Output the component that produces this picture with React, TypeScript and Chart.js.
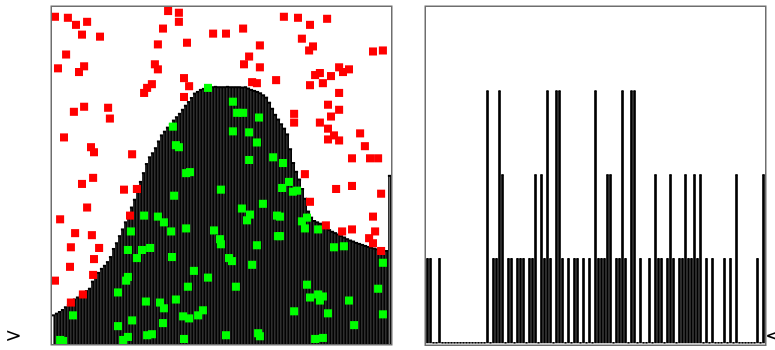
import React, { useEffect, useRef } from "react";
import { Chart, registerables } from "chart.js";

Chart.register(...registerables);

// Left panel: filled profile (one thin bar per sample)
const leftValues = [
  8.5, 9.0, 9.5, 10.1, 10.9, 11.6, 12.4, 13.2, 13.8, 14.4,
  15.0, 15.7, 16.4, 18.5, 19.6, 21.1, 22.3, 23.2, 24.3, 25.8,
  28.2, 29.9, 32.0, 34.0, 36.1, 38.4, 40.5, 42.8, 45.5, 48.1,
  50.7, 53.4, 55.4, 56.6, 58.1, 60.1, 61.9, 63.0, 64.2, 65.2,
  66.3, 67.3, 68.3, 69.5, 70.7, 71.8, 73.0, 74.3, 74.8, 75.4,
  75.7, 76.1, 76.2, 76.2, 76.3, 76.2, 76.2, 76.2, 76.3, 76.2,
  76.2, 76.2, 76.2, 76.1, 76.2, 75.8, 75.4, 75.1, 74.8, 74.4,
  73.8, 73.1, 71.6, 69.8, 68.0, 66.6, 65.2, 63.9, 62.2, 57.8,
  53.7, 51.1, 48.8, 46.0, 43.1, 39.3, 37.5, 36.5, 36.1, 35.7,
  35.0, 34.5, 33.8, 33.3, 32.9, 32.5, 32.0, 31.6, 31.1, 30.7,
  30.4, 30.0, 29.7, 29.4, 29.1, 28.8, 28.6, 28.3, 28.1, 27.8,
  27.7, 27.6, 49.9,
];

// Right panel: needle series
const rightValues = [
  1, 1, 0, 0, 1, 0, 0, 0, 0, 0,
  0, 0, 0, 0, 0, 0, 0, 0, 0, 0,
  3, 0, 1, 1, 3, 2, 0, 1, 1, 0,
  1, 1, 1, 0, 1, 1, 2, 0, 2, 1,
  3, 1, 0, 3, 3, 1, 0, 1, 0, 1,
  1, 0, 1, 0, 1, 0, 3, 1, 1, 1,
  2, 2, 0, 1, 1, 3, 1, 0, 3, 3,
  0, 1, 0, 0, 1, 0, 2, 1, 1, 0,
  1, 2, 1, 0, 1, 1, 2, 1, 1, 2,
  1, 2, 0, 1, 0, 1, 0, 0, 0, 1,
  0, 1, 0, 2, 0, 0, 0, 0, 0, 0,
  1, 0, 2,
];

// Scatter points [sample index, value]
const redPoints: [number, number][] = [
  [0.5, 97.1], [4.8, 96.8], [7.5, 94.7], [11.2, 95.6], [9.5, 91.8], [15.5, 91.2],
  [4.2, 85.9], [1.5, 81.8], [10.2, 82.4], [8.5, 80.7], [6.8, 68.9], [10.2, 70.4],
  [18.2, 70.1], [18.8, 66.9], [3.5, 61.3], [12.5, 58.4], [13.5, 56.9], [9.5, 47.5],
  [13.2, 49.3], [11.2, 40.5], [2.2, 37.0], [23.5, 45.8], [27.8, 46.0], [26.2, 56.3],
  [25.5, 38.1], [7.2, 32.9], [12.8, 32.3], [5.8, 28.7], [15.2, 28.5], [5.5, 22.9],
  [13.5, 25.2], [13.2, 20.5], [0.5, 18.8], [9.8, 14.7], [5.8, 12.3],
  [38.2, 98.8], [41.8, 98.3], [41.8, 95.6], [36.5, 93.6], [34.8, 88.9], [44.5, 89.4],
  [33.8, 83.0], [34.8, 81.5], [32.8, 77.1], [31.2, 76.0], [30.2, 74.5], [43.5, 78.9],
  [45.2, 76.5], [43.5, 73.3], [53.2, 92.1], [57.5, 92.1], [63.2, 93.6], [68.8, 88.6],
  [65.2, 85.3], [63.5, 83.0], [68.8, 82.1], [66.2, 77.7], [67.8, 77.4], [74.2, 78.3],
  [80.2, 68.3], [80.2, 65.7], [83.8, 50.4], [87.2, 79.8], [88.8, 80.4], [92.5, 79.5],
  [95.2, 82.1], [96.5, 80.7], [98.5, 81.5], [89.8, 77.4], [85.5, 76.8], [95.2, 74.5],
  [91.5, 71.0], [95.2, 69.5], [92.5, 67.5], [88.8, 65.7], [91.5, 63.9], [91.5, 60.7],
  [93.5, 61.9], [95.2, 60.4], [102.2, 62.5], [103.8, 58.7], [99.5, 55.1], [105.5, 55.1],
  [108.2, 55.1], [94.2, 46.0], [99.5, 46.9], [109.2, 44.6], [85.5, 42.2], [106.5, 37.8],
  [90.8, 35.2], [96.2, 33.4], [99.5, 34.0], [107.2, 33.4], [105.2, 31.4], [106.5, 29.9],
  [109.2, 27.6], [76.8, 97.1], [81.5, 96.8], [85.5, 94.7], [91.2, 96.5], [82.8, 90.6],
  [86.5, 88.3], [85.2, 87.1], [106.5, 86.8], [109.8, 87.1],
];

const greenPoints: [number, number][] = [
  [51.5, 76.0], [59.8, 71.9], [61.2, 68.6], [63.2, 68.6], [68.5, 67.2], [59.8, 63.1],
  [65.2, 62.8], [67.8, 59.8], [65.2, 54.6], [73.2, 55.4], [76.5, 53.7], [45.5, 51.0],
  [39.8, 64.5], [40.8, 59.0], [41.8, 58.4], [44.2, 50.7], [40.2, 44.0], [55.8, 45.8],
  [62.8, 40.2], [65.5, 38.4], [64.5, 36.7], [69.8, 41.6], [74.5, 38.1], [55.5, 31.1],
  [55.8, 29.6], [53.5, 33.7], [58.5, 25.5], [59.5, 24.6], [66.2, 23.5], [67.8, 29.3],
  [74.8, 32.0], [39.2, 33.4], [44.2, 34.3], [34.8, 37.8], [36.8, 36.1], [30.2, 38.1],
  [39.5, 25.8], [46.8, 21.7], [51.5, 19.7], [60.8, 17.0], [44.8, 17.0], [43.2, 8.2],
  [45.2, 7.6], [48.2, 8.5], [31.2, 2.6], [32.8, 2.9], [36.5, 6.2], [35.5, 12.3],
  [36.8, 10.6], [40.8, 13.2], [57.5, 2.6], [68.2, 3.2], [43.5, 1.5], [24.8, 27.9],
  [29.5, 27.9], [32.2, 28.5], [27.8, 25.5], [24.8, 19.9], [24.2, 18.8], [21.5, 15.3],
  [26.2, 7.0], [21.5, 5.3], [24.8, 2.1], [23.2, 1.2], [2.2, 1.2], [3.2, 0.9],
  [6.5, 8.5], [80.2, 9.7], [78.5, 48.1], [76.2, 46.3], [79.8, 45.2], [81.2, 45.5],
  [75.5, 37.8], [75.5, 32.0], [84.5, 37.5], [82.8, 36.4], [83.8, 34.3], [88.2, 34.0],
  [93.5, 28.7], [96.8, 29.0], [109.8, 24.1], [84.5, 17.6], [85.5, 13.8], [88.2, 14.7],
  [88.8, 12.9], [89.8, 14.1], [91.5, 9.1], [98.5, 12.9], [108.2, 16.4], [109.8, 8.8],
  [100.2, 5.6], [87.2, 1.5], [89.8, 1.8], [68.8, 2.3], [49.8, 10.0], [30.8, 12.6],
  [25.8, 33.4],
];

const boxPlugin = {
  id: "box",
  afterDraw(chart: any) {
    const { ctx, chartArea: a } = chart;
    ctx.save();
    ctx.strokeStyle = "#6e6e6e";
    ctx.lineWidth = 1.5;
    ctx.strokeRect(a.left - 0.75, a.top - 0.75, a.right - a.left + 1.5, a.bottom - a.top + 1.5);
    ctx.restore();
  },
};

function LeftChart() {
  const ref = useRef<HTMLCanvasElement>(null);
  useEffect(() => {
    const chart = new Chart(ref.current!, {
      type: "bar",
      data: {
        labels: leftValues.map((_, i) => String(i)),
        datasets: [
          {
            type: "scatter",
            data: redPoints.map(([x, y]) => ({ x, y })),
            xAxisID: "xs",
            backgroundColor: "#ff0000",
            borderColor: "#ff0000",
            pointStyle: "rect",
            pointRadius: 5.7,
            pointBorderWidth: 0,
            order: 0,
          } as any,
          {
            type: "scatter",
            data: greenPoints.map(([x, y]) => ({ x, y })),
            xAxisID: "xs",
            backgroundColor: "#00ff00",
            borderColor: "#00ff00",
            pointStyle: "rect",
            pointRadius: 5.7,
            pointBorderWidth: 0,
            order: 1,
          } as any,
          {
            type: "line",
            data: leftValues,
            showLine: false,
            pointStyle: "line",
            pointRadius: 1.6,
            pointBorderWidth: 2,
            borderColor: "#000",
            order: 2,
          } as any,
          {
            type: "bar",
            data: leftValues,
            backgroundColor: "#000",
            borderWidth: 0,
            categoryPercentage: 1,
            barPercentage: 0.92,
            order: 3,
          } as any,
          {
            type: "line",
            data: leftValues,
            stepped: "middle",
            fill: "origin",
            backgroundColor: "#2e2e2e",
            borderWidth: 0,
            borderColor: "rgba(0,0,0,0)",
            pointRadius: 0,
            order: 4,
          } as any,
        ],
      },
      options: {
        responsive: false,
        animation: false,
        layout: { padding: { left: 52, top: 7, right: 19, bottom: 3 } },
        plugins: { legend: { display: false }, tooltip: { enabled: false } },
        scales: {
          x: { display: false, offset: true },
          xs: {
            type: "linear",
            display: false,
            offset: false,
            grid: { offset: false },
            min: -0.5,
            max: 112.5,
          },
          y: { display: false, min: 0, max: 100 },
        },
      } as any,
      plugins: [boxPlugin],
    });
    return () => chart.destroy();
  }, []);
  return (
    <canvas
      ref={ref}
      width={410}
      height={350}
      style={{ position: "absolute", left: 0, top: 0, width: 410, height: 350 }}
    />
  );
}

function RightChart() {
  const ref = useRef<HTMLCanvasElement>(null);
  useEffect(() => {
    const chart = new Chart(ref.current!, {
      type: "bar",
      data: {
        labels: rightValues.map((_, i) => String(i)),
        datasets: [
          {
            type: "line",
            data: rightValues,
            showLine: false,
            pointStyle: "line",
            pointRadius: 1,
            pointBorderWidth: 1.5,
            borderColor: "#000",
            order: 1,
          } as any,
          {
            type: "bar",
            data: rightValues,
            backgroundColor: "#000",
            barThickness: 2,
            order: 2,
          } as any,
        ],
      },
      options: {
        responsive: false,
        animation: false,
        layout: { padding: { left: 16, top: 7, right: 10, bottom: 3 } },
        plugins: { legend: { display: false }, tooltip: { enabled: false } },
        scales: {
          x: { display: false, offset: true },
          y: { display: false, min: -0.02, max: 4 },
        },
      } as any,
      plugins: [boxPlugin],
    });
    return () => chart.destroy();
  }, []);
  return (
    <canvas
      ref={ref}
      width={365}
      height={350}
      style={{ position: "absolute", left: 410, top: 0, width: 365, height: 350 }}
    />
  );
}

export default function App() {
  const mark: React.CSSProperties = {
    position: "absolute",
    fontFamily: "DejaVu Sans, sans-serif",
    fontSize: 20,
    lineHeight: "20px",
    color: "#000",
  };
  return (
    <div
      style={{
        position: "fixed",
        left: 0,
        top: 0,
        width: 775,
        height: 350,
        overflow: "hidden",
        background: "#fff",
      }}
    >
      <LeftChart />
      <RightChart />
      <span style={{ ...mark, left: 5, top: 325 }}>&gt;</span>
      <span style={{ ...mark, left: 765, top: 325 }}>&lt;</span>
    </div>
  );
}
